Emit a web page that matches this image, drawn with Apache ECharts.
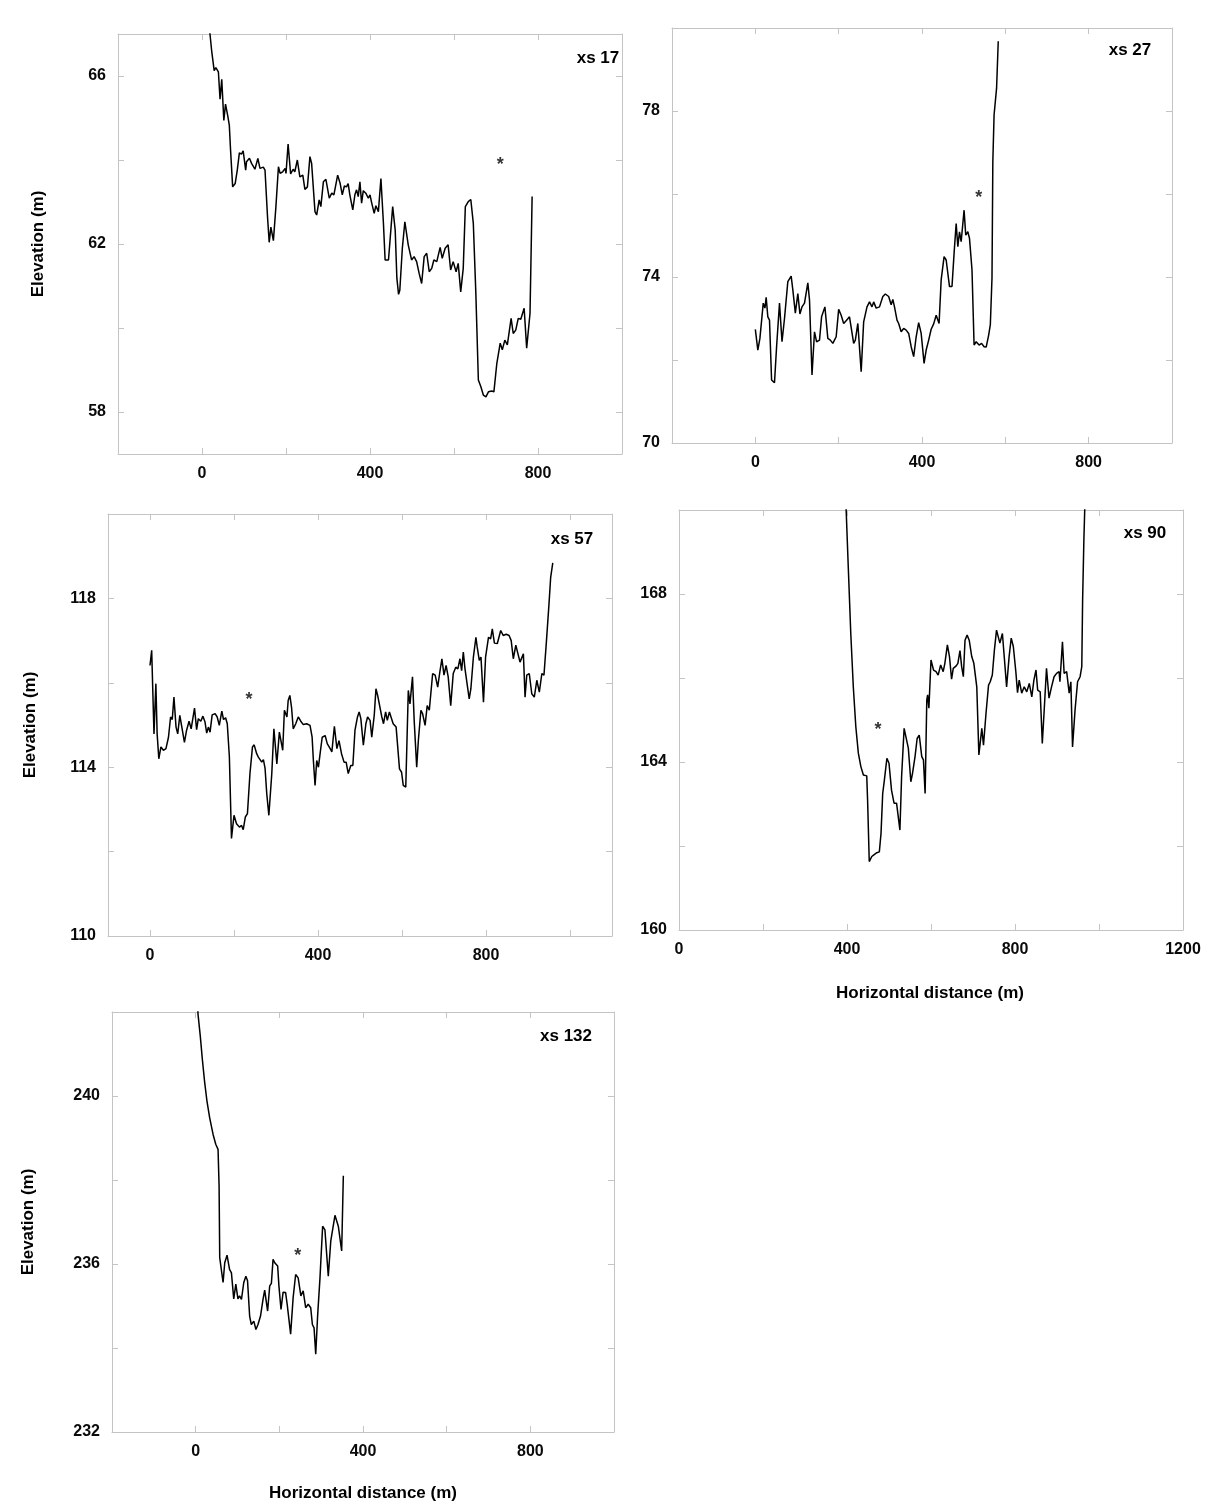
<!DOCTYPE html>
<html><head><meta charset="utf-8">
<script src="https://cdn.jsdelivr.net/npm/echarts@6/dist/echarts.min.js"></script>
<style>html,body{margin:0;padding:0;background:#fff}#c{width:1209px;height:1508px}</style>
</head><body><div id="c"></div>
<script>
// ---------- data (distance m, elevation m) ----------
const dist17 = [15,19,23,29,33,39,43,47,52,56,61,65,68,73,79,84,89,94,98,104,106,113,118,122,126,133,138,146,150,156,160,164,170,176,182,186,192,198,200,205,211,217,221,227,233,240,245,251,257,261,269,273,279,283,289,295,303,309,314,323,329,334,339,344,348,352,359,364,368,372,376,380,384,390,396,400,404,410,414,420,426,432,436,444,454,460,464,468,471,477,483,491,499,505,511,517,523,529,535,541,547,552,559,567,572,579,586,592,598,605,610,616,622,627,634,640,646,652,658,664,670,676,682,690,695,702,710,715,721,727,736,741,747,753,759,767,773,781,786];
const elev17 = [67.6,67.0,66.6,66.13,66.2,66.1,65.45,65.92,64.94,65.33,65.07,64.83,64.24,63.36,63.44,63.76,64.17,64.14,64.22,63.76,63.96,64.04,63.92,63.96,63.78,64.04,63.8,63.83,63.76,62.65,62.04,62.4,62.08,62.89,63.84,63.68,63.72,63.8,63.68,64.38,63.67,63.78,63.72,64.0,63.6,63.64,63.3,63.36,64.08,63.92,62.77,62.69,63.05,62.89,63.48,63.54,63.09,63.21,63.17,63.64,63.44,63.17,63.38,63.36,63.44,63.17,62.81,63.17,63.29,63.13,63.48,62.97,63.27,63.21,63.09,63.17,62.98,62.73,62.91,62.77,63.56,62.49,61.62,61.62,62.89,62.33,61.18,60.8,60.9,61.9,62.53,61.98,61.62,61.7,61.58,61.3,61.06,61.7,61.78,61.34,61.42,61.62,61.58,61.92,61.66,61.9,61.98,61.38,61.58,61.34,61.54,60.86,61.42,62.89,63.01,63.06,62.49,60.83,58.76,58.6,58.4,58.36,58.48,58.5,58.48,59.16,59.64,59.48,59.71,59.6,60.23,59.87,59.95,60.23,60.21,60.47,59.52,60.35,63.13];

const dist27 = [0,6,11,15,19,23,26,30,34,39,46,51,58,64,70,78,82,86,90,96,102,107,112,118,126,130,136,142,147,154,159,167,174,180,186,194,200,206,212,219,226,231,236,240,246,254,260,268,274,280,284,290,298,306,312,320,326,330,334,340,344,350,356,362,368,374,380,386,392,398,405,410,416,422,428,434,441,446,453,458,466,472,477,482,486,490,494,501,505,510,514,520,525,530,537,543,549,554,560,564,568,570,573,579,583];
const elev27 = [72.74,72.24,72.52,72.48,73.37,73.25,73.51,73.04,72.96,71.52,71.45,72.32,73.37,72.44,73.0,73.89,73.86,74.02,73.69,73.13,73.6,73.11,73.28,73.37,73.86,73.45,71.64,72.68,72.44,72.48,73.04,73.28,72.52,72.48,72.40,72.56,73.22,73.08,72.88,72.96,73.04,72.72,72.4,72.48,72.88,71.72,72.92,73.28,73.40,73.28,73.40,73.25,73.28,73.53,73.59,73.53,73.33,73.46,73.28,72.96,72.88,72.68,72.76,72.72,72.64,72.32,72.08,72.56,72.90,72.64,71.92,72.24,72.48,72.74,72.87,73.08,72.88,73.93,74.49,74.41,73.77,73.77,74.57,75.29,74.73,75.09,74.85,75.61,75.01,75.09,74.93,74.17,72.36,72.44,72.36,72.40,72.32,72.31,72.6,72.85,73.98,76.79,77.91,78.55,79.68];

const dist57 = [0,4,9.5,14,17,21,26,32,38,44,49,53,57,62,66,71,75,82,87,93,98,106,111,115,121,126,131,135,139,143,148,155,160,165,171,175,180,184,189,194,200,206,213,218,222,227,232,238,244,248,254,258,262,266,270,274,278,283,290,295,302,308,312,316,320,326,329,333,337,341,347,353,359,365,373,381,386,389,393,397,401,405,410,417,422,429,433,439,445,450,456,462,467,472,478,483,488,494,498,502,508,514,518,524,528,534,538,542,546,552,556,561,565,570,573,579,586,589,594,599,603,609,615,619,625,629,635,639,645,649,655,660,665,673,679,685,690,695,700,705,710,716,722,728,733,738,742,746,750,754,760,764,770,776,779,784,788,794,799,806,811,815,820,827,835,841,848,855,860,865,871,876,881,885,889,893,897,903,909,915,921,927,933,938,944,950,954,959];
const elev57 = [116.41,116.77,114.79,115.98,114.79,114.2,114.48,114.4,114.44,114.71,115.19,115.13,115.66,114.95,114.79,115.23,115.27,114.59,114.87,115.09,114.91,115.40,114.89,115.15,115.09,115.21,115.07,114.81,114.95,114.83,115.24,115.27,115.19,114.99,115.33,115.13,115.17,115.03,114.24,112.31,112.86,112.66,112.58,112.62,112.52,112.82,112.9,113.85,114.48,114.53,114.32,114.24,114.28,114.12,114.18,113.97,113.37,112.86,113.85,114.91,114.08,114.83,114.79,114.40,115.35,115.19,115.58,115.70,115.42,114.91,115.03,115.19,115.09,115.01,115.03,114.99,114.71,114.16,113.57,114.16,114.0,114.32,114.71,114.75,114.56,114.44,114.36,114.97,114.44,114.63,114.32,114.12,114.12,113.85,114.04,114.04,114.87,115.19,115.31,115.15,114.52,115.03,115.19,115.11,114.71,115.24,115.86,115.70,115.66,115.19,115.03,115.31,115.11,115.31,115.28,115.03,114.95,114.95,113.96,113.88,113.57,113.53,115.82,115.5,116.14,115.11,114.0,114.64,115.35,115.27,114.99,115.46,115.35,116.22,116.18,115.9,116.25,116.57,116.18,116.41,116.14,115.46,116.22,116.37,116.33,116.57,116.29,116.73,116.33,116.37,115.62,115.86,116.61,117.08,116.85,116.53,116.61,115.54,116.61,117.08,117.04,117.28,116.94,116.93,117.24,117.12,117.15,117.12,117.0,116.57,116.89,116.69,116.49,116.53,116.69,115.66,116.18,116.22,115.74,115.66,116.06,115.78,116.22,116.18,117.0,117.87,118.5,118.84];

const dist90 = [396,398,403,409,415,421,427,433,439,447,449,453,459,464,471,477,481,485,489,495,500,506,512,518,522,526,530,536,540,546,552,556,562,567,572,578,582,586,590,592,595,600,606,612,617,623,629,633,639,644,649,653,660,664,669,673,677,681,686,691,697,702,709,714,721,725,731,737,741,746,751,756,760,764,770,775,780,786,791,796,802,806,810,816,822,828,834,840,845,850,854,860,865,870,875,881,887,893,899,905,907,913,917,923,929,933,937,943,949,955,959,961,964,966,967];
const elev90 = [170.5,170,168.65,167.06,165.79,164.84,164.21,163.89,163.69,163.67,163.1,161.63,161.75,161.79,161.84,161.86,162.30,163.25,163.57,164.09,163.97,163.33,163.02,163.02,162.70,162.38,163.65,164.8,164.76,164.33,163.53,163.73,164.13,164.56,164.64,164.13,164.05,163.25,165.48,165.60,165.28,166.43,166.19,166.15,166.07,166.31,166.15,166.35,166.79,166.51,165.97,166.23,166.29,166.35,166.65,166.27,166.03,166.90,167.02,166.90,166.51,166.35,165.79,164.17,164.80,164.40,165.16,165.83,165.91,166.07,166.67,167.14,167.18,166.83,167.06,166.43,165.79,166.51,166.95,166.75,166.15,165.65,165.95,165.64,165.79,165.67,165.87,165.55,165.95,166.19,165.71,165.67,164.44,165.32,166.23,165.52,165.79,166.03,166.11,166.15,165.91,166.86,166.11,166.15,165.64,165.91,164.36,165.24,165.91,166.03,166.27,167.86,169.29,170,170.5];

const dist132 = [4,5.6,11,16,21.6,27,33.5,41.5,48,53.5,56,57.5,61.5,65.5,69.5,75,81,85.5,91,96,101,105,109.5,115,120,124,129,133,139,144,149,155,161,165,172,177,181,185,189,196,199,204,209,215,219,227,233,239,245,251.5,257,263,269,275,279,283,287,291.5,297,303.5,309,317,323,327,333,337,341,345,349,353];
const elev132 = [242.3,241.95,241.43,240.87,240.32,239.88,239.48,239.09,238.85,238.73,237.86,236.15,236.11,235.56,236.03,236.21,235.87,235.79,235.17,235.52,235.17,235.24,235.16,235.56,235.71,235.6,234.76,234.56,234.64,234.44,234.56,234.76,235.16,235.38,234.88,235.48,235.54,236.11,236.03,235.95,235.48,234.92,235.33,235.32,235.02,234.33,235.2,235.75,235.67,235.24,235.36,234.96,235.04,234.96,234.56,234.48,233.85,234.76,235.64,236.9,236.81,235.71,236.55,236.51,237.16,237.14,236.9,236.94,236.31,238.1];

// panel names, asterisk marker positions, axis ranges and tick values
const panelNames = ['xs 17','xs 27','xs 57','xs 90','xs 132'];
const starDist = [710, 536, 236, 474, 244];
const starElev = [63.98, 76.0, 115.68, 164.86, 236.29];
const xRanges = [[-200,1000],[-200,1000],[-100,1100],[0,1200],[-200,1000]];
const yRanges = [[57,67],[70,80],[110,120],[160,170],[232,242]];
const xTickVals = [0,200,400,600,800,1000,1200];
const xLabelVals = [0,400,800,1200];
const yTickVals = [[58,60,62,64,66],[70,72,74,76,78,80],[110,112,114,116,118,120],[160,162,164,166,168,170],[232,234,236,238,240,242]];
const yLabelVals = [[58,62,66],[70,74,78],[110,114,118],[160,164,168],[232,236,240]];
const yTitle = 'Elevation (m)';
const xTitle = 'Horizontal distance (m)';

const series = [[dist17,elev17],[dist27,elev27],[dist57,elev57],[dist90,elev90],[dist132,elev132]];

// ---------- layout ----------
const grids = [
  {left:118, top:34, width:504, height:420},
  {left:672, top:28, width:500, height:415},
  {left:108, top:514, width:504, height:422},
  {left:679, top:510, width:504, height:420},
  {left:112, top:1012, width:502, height:420}
];
const nameBoxes = [[598,58],[1130,50],[572,539],[1145,533],[566,1036]];
const yTitlePos = [[38,244],[30,725],[28,1222]];
const xTitlePos = [[930,993],[363,1493]];

const FONT = '"Liberation Sans", Arial, sans-serif';
const BOX = '#c4c4c4';
const labelStyle = {color:'#0a0a0a', fontWeight:'bold', fontSize:16, fontFamily:FONT, formatter: v => String(v)};

const xAxes = [], yAxes = [], ser = [];
grids.forEach((g, i) => {
  const [xmin, xmax] = xRanges[i];
  const [ymin, ymax] = yRanges[i];
  const xt = xTickVals.filter(v => v >= xmin && v <= xmax);
  const xl = xLabelVals.filter(v => v >= xmin && v <= xmax);
  ['bottom','top'].forEach((pos, k) => {
    xAxes.push({
      type:'value', gridIndex:i, position:pos, min:xmin, max:xmax,
      axisLine:{show:true, onZero:false, lineStyle:{color:BOX, width:1}},
      axisTick:{show:true, inside:true, length:6, customValues:xt, lineStyle:{color:BOX}},
      axisLabel: k===0 ? Object.assign({show:true, margin:12, customValues:xl}, labelStyle) : {show:false},
      splitLine:{show:false}
    });
  });
  ['left','right'].forEach((pos, k) => {
    yAxes.push({
      type:'value', gridIndex:i, position:pos, min:ymin, max:ymax,
      axisLine:{show:true, onZero:false, lineStyle:{color:BOX, width:1}},
      axisTick:{show:true, inside:true, length:6, customValues:yTickVals[i], lineStyle:{color:BOX}},
      axisLabel: k===0 ? Object.assign({show:true, margin:12, customValues:yLabelVals[i]}, labelStyle) : {show:false},
      splitLine:{show:false}
    });
  });
  const [d, e] = series[i];
  ser.push({
    type:'line', xAxisIndex:2*i, yAxisIndex:2*i, clip:true,
    data: d.map((x, j) => [x, e[j]]),
    showSymbol:false, symbol:'none', smooth:false,
    lineStyle:{color:'#000', width:1.5}, silent:true, animation:false
  });
  ser.push({
    type:'scatter', xAxisIndex:2*i, yAxisIndex:2*i,
    data:[[starDist[i], starElev[i]]], symbolSize:1,
    itemStyle:{color:'rgba(0,0,0,0)'},
    label:{show:true, position:'inside', formatter:'*', color:'#000', fontSize:18, fontWeight:'bold', fontFamily:FONT, offset:[0,4]},
    silent:true, animation:false
  });
});

const graphics = [];
panelNames.forEach((t, i) => {
  graphics.push({type:'text', x:nameBoxes[i][0], y:nameBoxes[i][1],
    style:{text:t, align:'center', verticalAlign:'middle', font:'bold 17px ' + FONT, fill:'#000'}});
});
yTitlePos.forEach(p => {
  graphics.push({type:'text', x:p[0], y:p[1], rotation:Math.PI/2,
    style:{text:yTitle, align:'center', verticalAlign:'middle', font:'bold 17px ' + FONT, fill:'#000'}});
});
xTitlePos.forEach(p => {
  graphics.push({type:'text', x:p[0], y:p[1],
    style:{text:xTitle, align:'center', verticalAlign:'middle', font:'bold 17px ' + FONT, fill:'#000'}});
});

const chart = echarts.init(document.getElementById('c'), null, {renderer:'canvas'});
chart.setOption({
  backgroundColor:'#ffffff',
  animation:false,
  grid: grids.map(g => Object.assign({containLabel:false}, g)),
  xAxis: xAxes,
  yAxis: yAxes,
  series: ser,
  graphic: graphics
});
</script>
</body></html>
